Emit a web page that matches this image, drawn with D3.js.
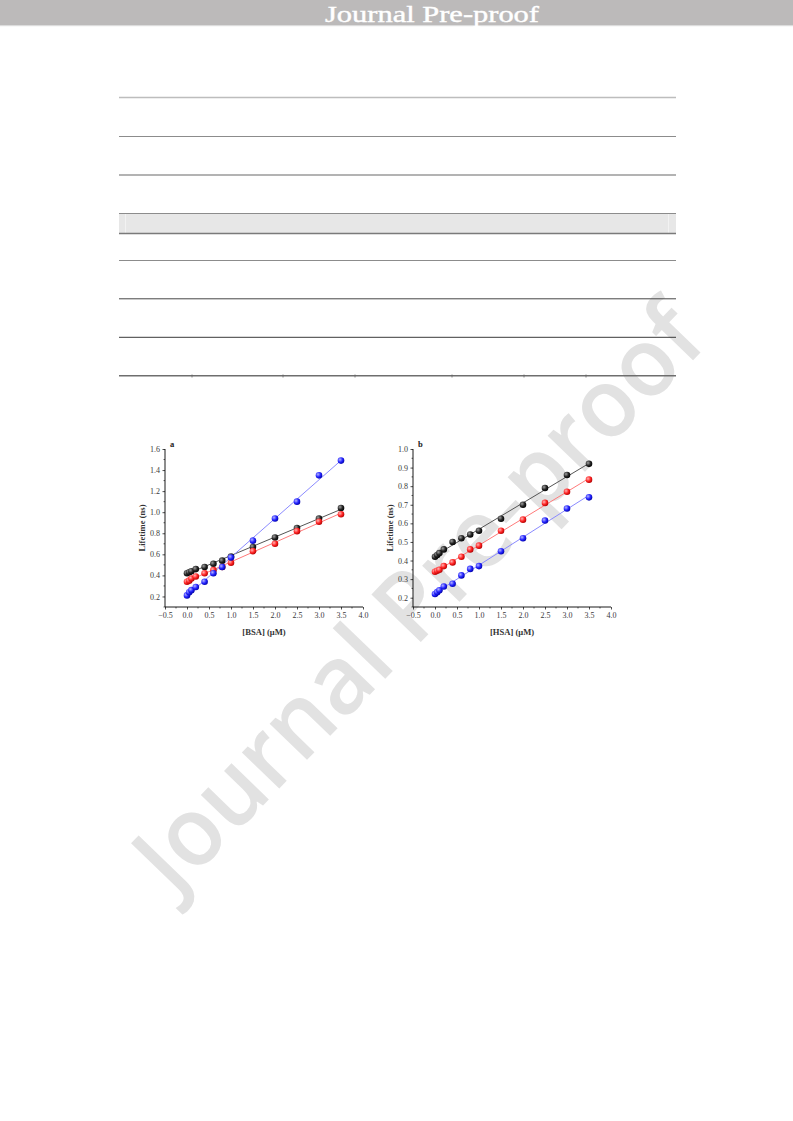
<!DOCTYPE html>
<html><head><meta charset="utf-8">
<script src="https://cdn.jsdelivr.net/npm/d3@7"></script>
<style>html,body{margin:0;padding:0;background:#fff;}svg{display:block;}</style>
</head><body>
<script>
// ---- data ----
const concentrations = [0, 0.05, 0.1, 0.2, 0.4, 0.6, 0.8, 1.0, 1.5, 2.0, 2.5, 3.0, 3.5];
const bsaBlack = [0.42, 0.43, 0.44, 0.46, 0.48, 0.51, 0.54, 0.58, 0.67, 0.76, 0.85, 0.94, 1.04];
const bsaRed   = [0.34, 0.35, 0.37, 0.39, 0.42, 0.45, 0.48, 0.52, 0.63, 0.70, 0.82, 0.91, 0.98];
const bsaBlue  = [0.21, 0.24, 0.26, 0.29, 0.34, 0.42, 0.48, 0.57, 0.73, 0.94, 1.10, 1.35, 1.49];
const hsaBlack = [0.42, 0.43, 0.44, 0.46, 0.50, 0.52, 0.54, 0.56, 0.625, 0.70, 0.79, 0.86, 0.92];
const hsaRed   = [0.34, 0.345, 0.35, 0.37, 0.39, 0.42, 0.46, 0.48, 0.56, 0.62, 0.71, 0.77, 0.835];
const hsaBlue  = [0.22, 0.23, 0.24, 0.26, 0.275, 0.32, 0.355, 0.37, 0.45, 0.52, 0.615, 0.68, 0.74];
const xTicks = [-0.5, 0.0, 0.5, 1.0, 1.5, 2.0, 2.5, 3.0, 3.5, 4.0];
const yTicksA = [0.2, 0.4, 0.6, 0.8, 1.0, 1.2, 1.4, 1.6];
const yTicksB = [0.2, 0.3, 0.4, 0.5, 0.6, 0.7, 0.8, 0.9, 1.0];
const xTitleA = "[BSA] (\u03bcM)";
const xTitleB = "[HSA] (\u03bcM)";
const yTitle = "Lifetime (ns)";

const W = 793, H = 1121;
const serif = "Times New Roman, Liberation Serif, serif";
const svg = d3.select("body").append("svg").attr("width", W).attr("height", H);
svg.append("rect").attr("width", W).attr("height", H).attr("fill", "#fff");

const defs = svg.append("defs");
const ballColors = {black: ["#a0a0a0", "#262626", "#000"], red: ["#ffb4b4", "#ff2424", "#b00000"], blue: ["#b4b4ff", "#2424ff", "#0000a8"]};
Object.entries(ballColors).forEach(([k, c]) => {
  const g = defs.append("radialGradient").attr("id", "ball-" + k).attr("cx", "35%").attr("cy", "35%").attr("r", "70%");
  g.append("stop").attr("offset", "0%").attr("stop-color", c[0]);
  g.append("stop").attr("offset", "55%").attr("stop-color", c[1]);
  g.append("stop").attr("offset", "100%").attr("stop-color", c[2]);
});

// ---- watermark (behind) ----
svg.append("text")
  .attr("transform", "translate(442,620) rotate(-46)")
  .attr("text-anchor", "middle")
  .attr("font-family", "Open Sans, sans-serif")
  .attr("font-size", 96)
  .attr("font-weight", 600)
  .attr("fill", "#e2e2e2")
  .attr("textLength", 770).attr("lengthAdjust", "spacingAndGlyphs")
  .text("Journal Pre-proof");

// ---- header ----
svg.append("rect").attr("x", 0).attr("y", 0).attr("width", W).attr("height", 25).attr("fill", "#bcbaba");
svg.append("rect").attr("x", 0).attr("y", 25).attr("width", W).attr("height", 1.2).attr("fill", "#dcdcdc");
svg.append("text").attr("x", 432).attr("y", 21.5).attr("text-anchor", "middle")
  .attr("font-family", serif).attr("font-size", 24).attr("font-weight", "normal")
  .attr("fill", "#fff").attr("stroke", "#fff").attr("stroke-width", 0.4)
  .attr("textLength", 214).attr("lengthAdjust", "spacingAndGlyphs")
  .text("Journal Pre-proof");

// ---- empty table rules ----
const tx0 = 119, tx1 = 676;
const rules = [
  {y: 97.5, c: "#bdbdbd", w: 1.5},
  {y: 136.5, c: "#8c8c8c", w: 1},
  {y: 175, c: "#9a9a9a", w: 1.5}
];
svg.append("rect").attr("x", tx0).attr("y", 213.5).attr("width", tx1 - tx0).attr("height", 20).attr("fill", "#e7e7e7");
svg.append("line").attr("x1", 125.5).attr("x2", 125.5).attr("y1", 214).attr("y2", 233).attr("stroke", "#f2f2f2").attr("stroke-width", 1);
svg.append("line").attr("x1", 668.5).attr("x2", 668.5).attr("y1", 214).attr("y2", 233).attr("stroke", "#f2f2f2").attr("stroke-width", 1);
rules.push({y: 213.5, c: "#8c8c8c", w: 1}, {y: 233.5, c: "#7a7a7a", w: 1.5},
  {y: 260.5, c: "#8c8c8c", w: 1}, {y: 298.8, c: "#474747", w: 1},
  {y: 337.3, c: "#3a3a3a", w: 1}, {y: 375.8, c: "#6e6e6e", w: 1.5});
rules.forEach(r => svg.append("line").attr("x1", tx0).attr("x2", tx1).attr("y1", r.y).attr("y2", r.y)
  .attr("stroke", r.c).attr("stroke-width", r.w));
[192, 283, 355, 452, 524, 586].forEach(x => svg.append("line").attr("x1", x).attr("x2", x)
  .attr("y1", 374.5).attr("y2", 377.5).attr("stroke", "#666").attr("stroke-width", 0.8));

// ---- panels ----
function regress(xs, ys) {
  const mx = d3.mean(xs), my = d3.mean(ys);
  let sxy = 0, sxx = 0;
  xs.forEach((x, i) => { sxy += (x - mx) * (ys[i] - my); sxx += (x - mx) * (x - mx); });
  const b = sxy / sxx;
  return {a: my - b * mx, b};
}

function panel(o) {
  const g = svg.append("g");
  const x = d3.scaleLinear().domain([-0.5, 4.0]).range(o.xr);
  const y = d3.scaleLinear().domain(o.yd).range([607, 449]);

  o.series.forEach(s => {
    const f = regress(concentrations, s.v);
    const ext = d3.extent(concentrations);
    g.append("line").attr("x1", x(ext[0])).attr("x2", x(ext[1]))
      .attr("y1", y(f.a + f.b * ext[0])).attr("y2", y(f.a + f.b * ext[1]))
      .attr("stroke", s.line).attr("stroke-width", 1);
  });
  o.series.forEach(s => {
    g.selectAll(null).data(concentrations).enter().append("circle")
      .attr("cx", d => x(d)).attr("cy", (d, i) => y(s.v[i])).attr("r", 3.3)
      .attr("fill", "url(#ball-" + s.key + ")");
  });

  const xAx = g.append("g").attr("transform", `translate(0,${y.range()[0]})`)
    .call(d3.axisBottom(x).tickValues(xTicks).tickFormat(d3.format(".1f")).tickSize(2.5).tickPadding(2.5));
  xAx.append("g").selectAll("line").data(d3.range(-0.25, 4.0, 0.5)).enter().append("line")
    .attr("x1", d => x(d)).attr("x2", d => x(d)).attr("y1", 0).attr("y2", 1.5).attr("stroke", "#000").attr("stroke-width", 0.6);
  const yAx = g.append("g").attr("transform", `translate(${o.xr[0]},0)`)
    .call(d3.axisLeft(y).tickValues(o.yt).tickFormat(d3.format(".1f")).tickSize(2.5).tickPadding(2.5));
  yAx.append("g").selectAll("line").data(o.ym).enter().append("line")
    .attr("x1", 0).attr("x2", -1.5).attr("y1", d => y(d)).attr("y2", d => y(d)).attr("stroke", "#000").attr("stroke-width", 0.6);
  [xAx, yAx].forEach(a => {
    a.select(".domain").attr("stroke", "#000").attr("stroke-width", 0.9);
    a.selectAll(".tick line").attr("stroke", "#000").attr("stroke-width", 0.7);
    a.selectAll("text").attr("font-family", serif).attr("font-size", 8).attr("fill", "#3a3a3a");
  });
  xAx.select(".domain").attr("d", `M${o.xr[0]},0H${o.xr[1]}`);
  yAx.select(".domain").attr("d", `M0,${y.range()[0]}V${y.range()[1]}`);

  g.append("text").attr("x", (o.xr[0] + o.xr[1]) / 2).attr("y", 634.5).attr("text-anchor", "middle")
    .attr("font-family", serif).attr("font-weight", "bold").attr("font-size", 8.6).attr("fill", "#333").text(o.xt);
  g.append("text").attr("transform", `translate(${o.xr[0] - 20},528) rotate(-90)`).attr("text-anchor", "middle")
    .attr("font-family", serif).attr("font-weight", "bold").attr("font-size", 8.6).attr("fill", "#333").text(yTitle);
  g.append("text").attr("x", o.xr[0] + 5).attr("y", 446.5).attr("font-family", serif).attr("font-weight", "bold")
    .attr("font-size", 8.5).attr("fill", "#222").text(o.label);
}

panel({xr: [165, 363], yd: [0.1, 1.6], yt: yTicksA, ym: d3.range(0.1, 1.6, 0.2).map(v => +v.toFixed(2)),
  xt: xTitleA, label: "a",
  series: [
    {key: "black", v: bsaBlack, line: "#555"},
    {key: "red", v: bsaRed, line: "#ff7a7a"},
    {key: "blue", v: bsaBlue, line: "#8a8aff"}
  ]});
panel({xr: [413, 611], yd: [0.15, 1.0], yt: yTicksB, ym: d3.range(0.15, 1.0, 0.1).map(v => +v.toFixed(2)),
  xt: xTitleB, label: "b",
  series: [
    {key: "black", v: hsaBlack, line: "#555"},
    {key: "red", v: hsaRed, line: "#ff7a7a"},
    {key: "blue", v: hsaBlue, line: "#8a8aff"}
  ]});
</script>
</body></html>
